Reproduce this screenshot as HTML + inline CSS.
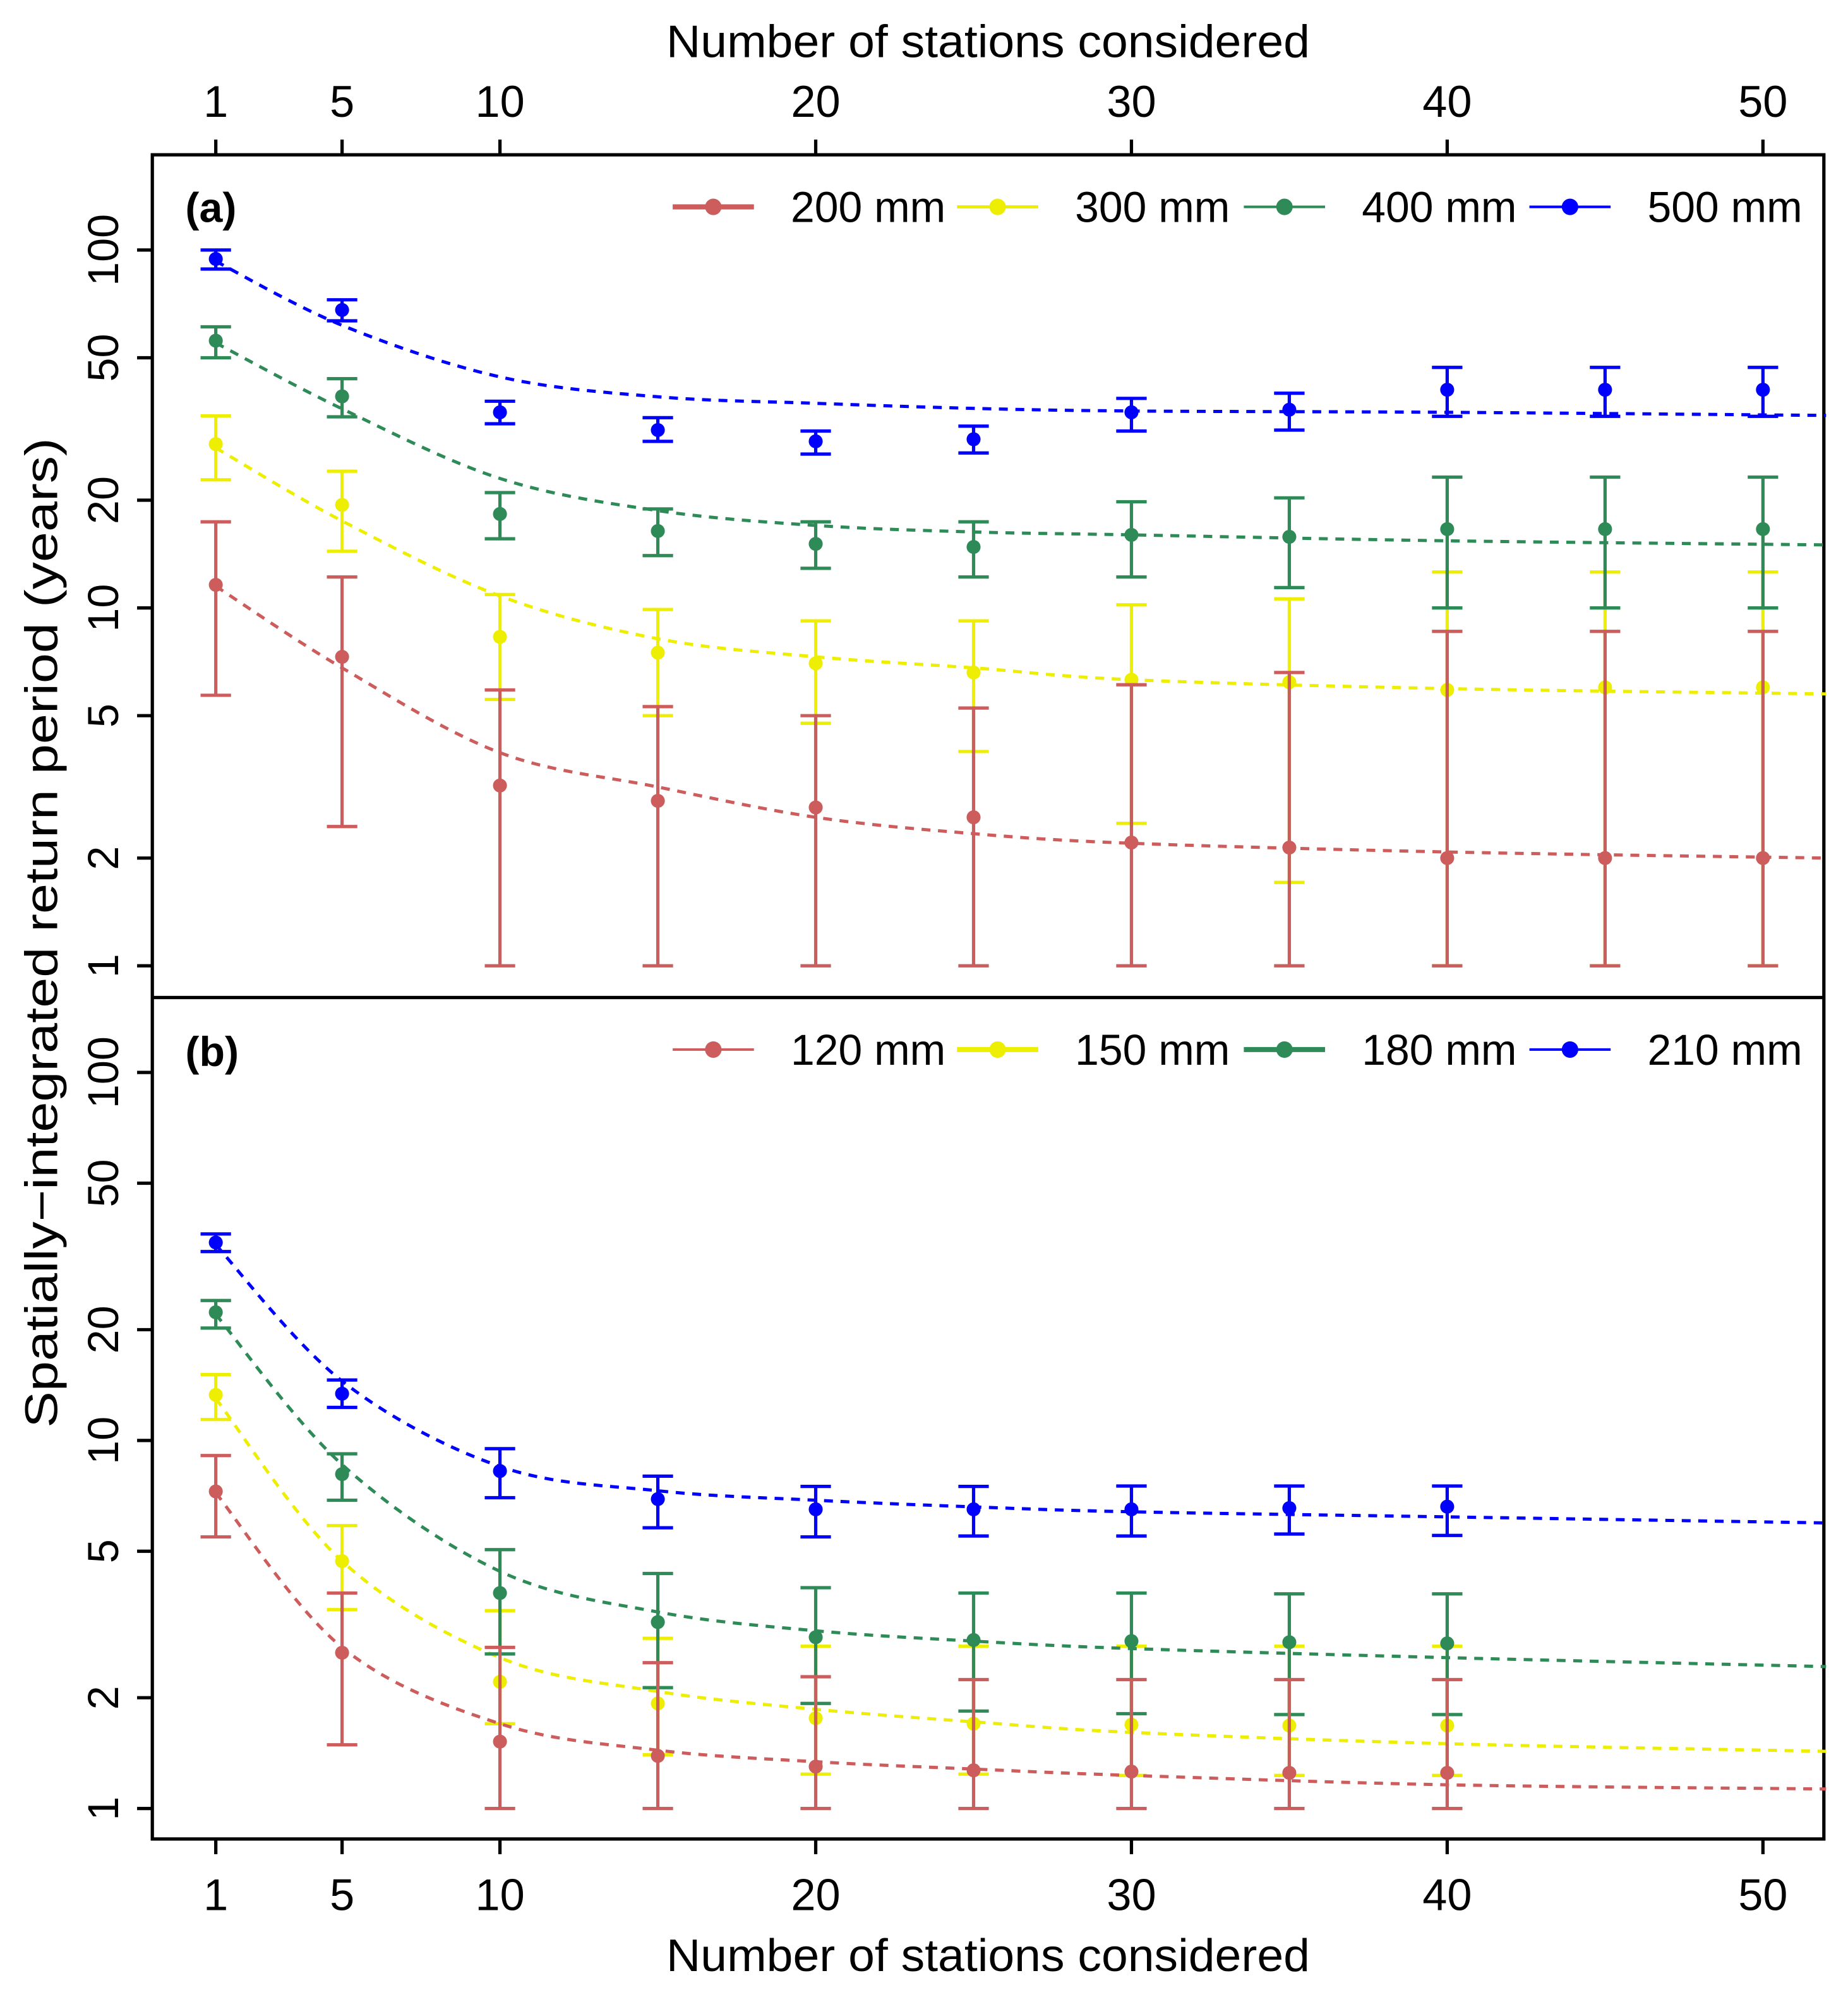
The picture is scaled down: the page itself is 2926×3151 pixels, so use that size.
<!DOCTYPE html>
<html><head><meta charset="utf-8"><style>
html,body{margin:0;padding:0;background:#fff;}
svg{display:block;font-family:"Liberation Sans",Arial,sans-serif;}
</style></head><body>
<svg id="chart" width="2926" height="3151" viewBox="0 0 1456 1568" xmlns="http://www.w3.org/2000/svg"></svg>
<script>
// ---- data ----
const stationsA = [1,5,10,15,20,25,30,35,40,45,50];
const stationsB = [1,5,10,15,20,25,30,35,40];
const curveN = [1,5,10,15,20,25,30,40,52];

const seriesNamesA = ["200 mm","300 mm","400 mm","500 mm"];
const seriesNamesB = ["120 mm","150 mm","180 mm","210 mm"];
const colors = ["#CD5C5C","#EEEE00","#2E8B57","#0000FF"];

// Panel a
const a200 = [11.6,7.3,3.19,2.89,2.77,2.6,2.21,2.14,2.0,2.0,2.0];
const a200lo = [5.7,2.45,1,1,1,1,1,1,1,1,1];
const a200hi = [17.4,12.2,5.9,5.3,5.0,5.25,6.1,6.6,8.6,8.6,8.6];
const a200fit = [11.5,6.8,3.94,3.16,2.6,2.34,2.2,2.08,2.0];

const a300 = [28.7,19.4,8.3,7.5,7.0,6.6,6.3,6.2,5.9,6.0,6.0];
const a300lo = [22.8,14.4,5.55,5.0,4.76,3.97,2.5,1.71,1.0,1.0,1.0];
const a300hi = [34.4,24.1,10.9,9.9,9.2,9.2,10.2,10.6,12.6,12.6,12.6];
const a300fit = [28,17.5,10.8,8.2,7.3,6.8,6.3,5.95,5.75];

const a400 = [55.8,39,18.3,16.4,15.1,14.8,16.0,15.8,16.6,16.6,16.6];
const a400lo = [50,34.2,15.6,14,12.9,12.2,12.2,11.4,10,10,10];
const a400hi = [61,43.7,21,18.9,17.4,17.4,19.8,20.3,23.2,23.2,23.2];
const a400fit = [55,36,23,18.7,17.0,16.3,16.0,15.4,15.0];

const a500 = [94.4,68,35.2,31.4,29.2,29.6,35.2,35.8,40.7,40.7,40.7];
const a500lo = [88.5,63.4,32.7,29.2,26.9,27.1,31.2,31.4,34.3,34.3,34.3];
const a500hi = [100,72.6,37.8,34,31.2,32.2,38.5,39.8,47,47,47];
const a500fit = [93,61.6,44.2,38.9,37.3,36.1,35.5,35.2,34.5];

// Panel b
const b120 = [7.27,2.65,1.52,1.39,1.30,1.27,1.26,1.25,1.25];
const b120lo = [5.47,1.49,1,1,1,1,1,1,1];
const b120hi = [9.1,3.85,2.74,2.49,2.28,2.24,2.24,2.24,2.24];
const b120fit = [7.2,2.74,1.70,1.44,1.34,1.28,1.23,1.16,1.13];

const b150 = [13.3,4.7,2.21,1.93,1.76,1.70,1.69,1.68,1.68];
const b150lo = [11.4,3.47,1.7,1.40,1.24,1.24,1.23,1.23,1.23];
const b150hi = [15.1,5.87,3.45,2.9,2.76,2.76,2.76,2.76,2.76];
const b150fit = [13,4.7,2.57,2.08,1.86,1.72,1.61,1.5,1.43];

const b180 = [22.3,8.1,3.85,3.21,2.92,2.87,2.85,2.83,2.81];
const b180lo = [20.2,6.88,2.63,2.13,1.93,1.84,1.81,1.8,1.8];
const b180hi = [24,9.2,5.05,4.35,3.98,3.85,3.85,3.83,3.83];
const b180fit = [22,8.6,4.41,3.42,3.04,2.85,2.72,2.57,2.43];

const b210 = [34.5,13.4,8.26,6.93,6.5,6.5,6.5,6.55,6.61];
const b210lo = [32.6,12.3,6.99,5.79,5.47,5.5,5.5,5.57,5.52];
const b210hi = [36.4,14.6,9.5,8.0,7.5,7.5,7.52,7.52,7.52];
const b210fit = [34,14.5,8.5,7.3,6.88,6.6,6.4,6.2,5.97];

const xTicks = [1,5,10,20,30,40,50];
const yTicks = [1,2,5,10,20,50,100];

// ---- layout ----
const L=120,R=1437,T=122,M=786,B=1449;
const x = n => 170 + (n-1)*(1389-170)/49;
const yA = v => 761 - Math.log10(v)*282;
const yB = v => 1425 - Math.log10(v)*290;
const svg = document.getElementById('chart');
const NS="http://www.w3.org/2000/svg";
function mk(tag, attrs, parent){
  const e=document.createElementNS(NS,tag);
  for(const k in attrs) e.setAttribute(k,attrs[k]);
  (parent||svg).appendChild(e); return e;
}
function smoothPath(pts){
  let d=`M${pts[0][0]},${pts[0][1]}`;
  for(let i=0;i<pts.length-1;i++){
    const p0=pts[Math.max(0,i-1)],p1=pts[i],p2=pts[i+1],p3=pts[Math.min(pts.length-1,i+2)];
    const c1=[p1[0]+(p2[0]-p0[0])/6,p1[1]+(p2[1]-p0[1])/6];
    const c2=[p2[0]-(p3[0]-p1[0])/6,p2[1]-(p3[1]-p1[1])/6];
    d+=` C${c1[0]},${c1[1]} ${c2[0]},${c2[1]} ${p2[0]},${p2[1]}`;
  }
  return d;
}
function drawSeries(panel, name, color, xs, vals, lo, hi, fit, yf){
  const g=mk('g',{});
  
  
  const pts=curveN.map((n,i)=>[x(n),yf(fit[i])]);
  const p=mk('path',{d:smoothPath(pts),fill:'none',stroke:color,'stroke-width':2.5,'stroke-dasharray':'7,6'},g);
  
  
  xs.forEach((n,i)=>{
    const cx=x(n);
    const eb=mk('path',{d:`M${cx},${yf(lo[i])}V${yf(hi[i])}M${cx-12},${yf(lo[i])}h24M${cx-12},${yf(hi[i])}h24`,stroke:color,'stroke-width':2.6,fill:'none'},g);
    
    
    const c=mk('circle',{cx:cx,cy:yf(vals[i]),r:5.5,fill:color},g);
    
    
  });
}
// frame
const frame=mk('path',{d:`M${L},${T}H${R}V${B}H${L}Z M${L},${M}H${R}`,fill:'none',stroke:'#000','stroke-width':2.6});



// x ticks
xTicks.forEach(t=>{
  const tt=mk('path',{d:`M${x(t)},${T}v-12M${x(t)},${B}v12`,stroke:'#000','stroke-width':2.6});
  
  
  const l1=mk('text',{x:x(t),y:92,'font-size':35,'text-anchor':'middle'}); l1.textContent=t;
  
  
  const l2=mk('text',{x:x(t),y:1505,'font-size':35,'text-anchor':'middle'}); l2.textContent=t;
  
  
});
// y ticks
[yA,yB].forEach((yf,pi)=>{
  yTicks.forEach(t=>{
    const tt=mk('path',{d:`M${L},${yf(t)}h-12`,stroke:'#000','stroke-width':2.6});
    
    
    const yy=yf(t);
    const lb=mk('text',{x:0,y:0,'font-size':34,'text-anchor':'middle',transform:`translate(93,${yy}) rotate(-90)`}); lb.textContent=t;
    
    
  });
});
// titles
let t1=mk('text',{x:525,y:45,'font-size':36,textLength:507,lengthAdjust:'spacingAndGlyphs'}); t1.textContent='Number of stations considered';
 
let t2=mk('text',{x:525,y:1553,'font-size':36,textLength:507,lengthAdjust:'spacingAndGlyphs'}); t2.textContent='Number of stations considered';
 
let t3=mk('text',{x:0,y:0,'font-size':36,textLength:780,lengthAdjust:'spacingAndGlyphs',transform:'translate(45,1125) rotate(-90)'}); t3.textContent='Spatially\u2212integrated return period (years)';
 
let pa=mk('text',{x:146,y:175,'font-size':33,'font-weight':'bold'}); pa.textContent='(a)';
 
let pb=mk('text',{x:146,y:840,'font-size':33,'font-weight':'bold'}); pb.textContent='(b)';
 

// series (draw order: yellow, blue, green, red)
const A=[[a200,a200lo,a200hi,a200fit],[a300,a300lo,a300hi,a300fit],[a400,a400lo,a400hi,a400fit],[a500,a500lo,a500hi,a500fit]];
const Bs=[[b120,b120lo,b120hi,b120fit],[b150,b150lo,b150hi,b150fit],[b180,b180lo,b180hi,b180fit],[b210,b210lo,b210hi,b210fit]];
const order=[1,3,2,0];
order.forEach(i=>{const s=A[i];drawSeries('panel-a',seriesNamesA[i],colors[i],stationsA,s[0],s[1],s[2],s[3],yA);});
order.forEach(i=>{const s=Bs[i];drawSeries('panel-b',seriesNamesB[i],colors[i],stationsB,s[0],s[1],s[2],s[3],yB);});

// legends
const legX=[530,754,980,1205];
function legend(names, ly, thick, panel){
  names.forEach((nm,i)=>{
    const g=mk('g',{});
    
    
    mk('path',{d:`M${legX[i]},${ly}h64`,stroke:colors[i],'stroke-width':thick[i]},g);
    mk('circle',{cx:legX[i]+32,cy:ly,r:6.5,fill:colors[i]},g);
    const tx=mk('text',{x:legX[i]+93,y:ly+12,'font-size':34,textLength:122,lengthAdjust:'spacingAndGlyphs'},g); tx.textContent=nm;
  });
}
legend(seriesNamesA,163,[4,2.5,2,2],'panel-a');
legend(seriesNamesB,827,[2,4,4,2],'panel-b');
</script>
</body></html>
